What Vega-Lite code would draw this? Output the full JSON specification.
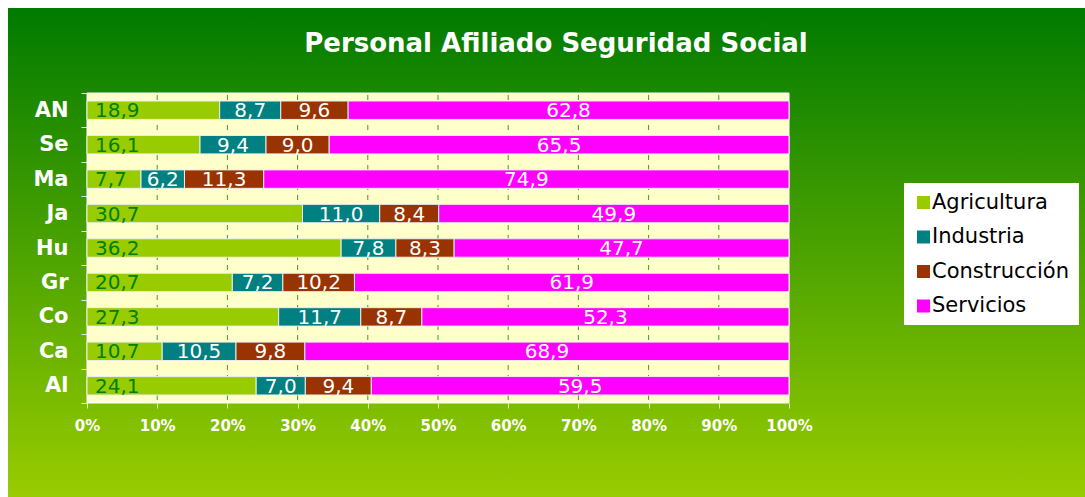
{
  "$schema": "https://vega.github.io/schema/vega-lite/v6.json",
  "width": 1077,
  "height": 497,
  "autosize": {"type": "none"},
  "padding": {"left": 8, "top": 0, "right": 0, "bottom": 0},
  "background": "white",
  "title": {
    "text": "Personal Afiliado Seguridad Social",
    "font": "DejaVu Sans",
    "fontSize": 26,
    "fontWeight": "bold",
    "color": "white",
    "anchor": "middle",
    "frame": "group",
    "dx": 9.5,
    "dy": 72
  },
  "datasets": {
    "main": [
      {"region": "AN", "sector": "Agricultura", "value": 18.9},
      {"region": "AN", "sector": "Industria", "value": 8.7},
      {"region": "AN", "sector": "Construcción", "value": 9.6},
      {"region": "AN", "sector": "Servicios", "value": 62.8},
      {"region": "Se", "sector": "Agricultura", "value": 16.1},
      {"region": "Se", "sector": "Industria", "value": 9.4},
      {"region": "Se", "sector": "Construcción", "value": 9.0},
      {"region": "Se", "sector": "Servicios", "value": 65.5},
      {"region": "Ma", "sector": "Agricultura", "value": 7.7},
      {"region": "Ma", "sector": "Industria", "value": 6.2},
      {"region": "Ma", "sector": "Construcción", "value": 11.3},
      {"region": "Ma", "sector": "Servicios", "value": 74.9},
      {"region": "Ja", "sector": "Agricultura", "value": 30.7},
      {"region": "Ja", "sector": "Industria", "value": 11.0},
      {"region": "Ja", "sector": "Construcción", "value": 8.4},
      {"region": "Ja", "sector": "Servicios", "value": 49.9},
      {"region": "Hu", "sector": "Agricultura", "value": 36.2},
      {"region": "Hu", "sector": "Industria", "value": 7.8},
      {"region": "Hu", "sector": "Construcción", "value": 8.3},
      {"region": "Hu", "sector": "Servicios", "value": 47.7},
      {"region": "Gr", "sector": "Agricultura", "value": 20.7},
      {"region": "Gr", "sector": "Industria", "value": 7.2},
      {"region": "Gr", "sector": "Construcción", "value": 10.2},
      {"region": "Gr", "sector": "Servicios", "value": 61.9},
      {"region": "Co", "sector": "Agricultura", "value": 27.3},
      {"region": "Co", "sector": "Industria", "value": 11.7},
      {"region": "Co", "sector": "Construcción", "value": 8.7},
      {"region": "Co", "sector": "Servicios", "value": 52.3},
      {"region": "Ca", "sector": "Agricultura", "value": 10.7},
      {"region": "Ca", "sector": "Industria", "value": 10.5},
      {"region": "Ca", "sector": "Construcción", "value": 9.8},
      {"region": "Ca", "sector": "Servicios", "value": 68.9},
      {"region": "Al", "sector": "Agricultura", "value": 24.1},
      {"region": "Al", "sector": "Industria", "value": 7.0},
      {"region": "Al", "sector": "Construcción", "value": 9.4},
      {"region": "Al", "sector": "Servicios", "value": 59.5}
    ],
    "grid": [
      {"p": 0.1}, {"p": 0.2}, {"p": 0.3}, {"p": 0.4}, {"p": 0.5},
      {"p": 0.6}, {"p": 0.7}, {"p": 0.8}, {"p": 0.9}
    ],
    "frame": [{"k": 1}]
  },
  "config": {
    "font": "DejaVu Sans",
    "view": {
      "stroke": null,
      "fill": {
        "gradient": "linear",
        "x1": 0, "y1": 0, "x2": 0, "y2": 1,
        "stops": [
          {"offset": 0, "color": "#ffffff"},
          {"offset": 0.0160, "color": "#ffffff"},
          {"offset": 0.0161, "color": "#007a00"},
          {"offset": 1, "color": "#99cc00"}
        ]
      }
    },
    "locale": {
      "number": {"decimal": ",", "thousands": ".", "grouping": [3], "currency": ["", " €"]}
    },
    "legend": {
      "orient": "none",
      "legendX": 896,
      "legendY": 183,
      "fillColor": "white",
      "padding": 9,
      "symbolType": "square",
      "symbolSize": 169,
      "symbolStrokeWidth": 0,
      "labelFont": "DejaVu Sans",
      "labelFontSize": 21,
      "labelColor": "black",
      "labelOffset": -2,
      "rowPadding": 12.5
    }
  },
  "layer": [
    {
      "data": {"name": "frame"},
      "mark": {"type": "rect", "fill": "#ffffcc", "stroke": "white", "strokeWidth": 1, "yOffset": -17.22, "y2Offset": 17.22},
      "encoding": {
        "x": {
          "datum": 0, "type": "quantitative", "title": null,
          "scale": {"type": "linear", "domain": [0, 1], "range": [79, 781], "nice": false, "zero": false},
          "axis": {
            "title": null,
            "orient": "bottom",
            "offset": -94,
            "domain": false,
            "grid": false,
            "values": [0, 0.1, 0.2, 0.3, 0.4, 0.5, 0.6, 0.7, 0.8, 0.9, 1],
            "format": ".0%",
            "labelFlush": false,
            "labelOverlap": false,
            "tickSize": 5,
            "tickColor": "#e4e4e4",
            "labelFont": "DejaVu Sans",
            "labelFontSize": 15,
            "labelFontWeight": "bold",
            "labelColor": "white",
            "labelPadding": 10
          }
        },
        "x2": {"datum": 1},
        "y": {
          "datum": "AN", "type": "nominal", "title": null,
          "scale": {"type": "band", "domain": ["AN", "Se", "Ma", "Ja", "Hu", "Gr", "Co", "Ca", "Al"], "range": [93, 403], "paddingInner": 0, "paddingOuter": 0},
          "axis": {
            "title": null,
            "orient": "left",
            "offset": -79,
            "domain": false,
            "grid": false,
            "tickBand": "extent",
            "tickSize": 6,
            "tickColor": "#e4e4e4",
            "labelFont": "DejaVu Sans",
            "labelFontSize": 21,
            "labelFontWeight": "bold",
            "labelColor": "white",
            "labelPadding": 13
          }
        },
        "y2": {"datum": "Al"}
      }
    },
    {
      "data": {"name": "grid"},
      "mark": {"type": "rule", "stroke": "#3d9a28", "strokeWidth": 1, "strokeDash": [5, 5], "strokeDashOffset": 8, "yOffset": -17.22, "y2Offset": 17.22},
      "encoding": {
        "x": {"field": "p", "type": "quantitative", "title": null},
        "y": {"datum": "AN", "type": "nominal", "title": null},
        "y2": {"datum": "Al"}
      }
    },
    {
      "data": {"name": "main"},
      "transform": [
        {"stack": "value", "groupby": ["region"], "offset": "normalize", "as": ["v0", "v1"]}
      ],
      "mark": {"type": "bar", "height": {"band": 0.535}, "stroke": "#eeeeee", "strokeWidth": 1},
      "encoding": {
        "y": {"field": "region", "type": "nominal", "sort": null, "title": null},
        "x": {"field": "v0", "type": "quantitative", "title": null},
        "x2": {"field": "v1"},
        "color": {
          "field": "sector", "type": "nominal",
          "scale": {"domain": ["Agricultura", "Industria", "Construcción", "Servicios"], "range": ["#99cc00", "#008080", "#993300", "#ff00ff"]},
          "legend": {"title": null}
        }
      }
    },
    {
      "data": {"name": "main"},
      "transform": [
        {"stack": "value", "groupby": ["region"], "offset": "normalize", "as": ["v0", "v1"]},
        {"filter": "datum.sector === 'Agricultura'"}
      ],
      "mark": {"type": "text", "align": "left", "baseline": "middle", "dx": 8, "dy": 1, "fontSize": 20, "font": "DejaVu Sans", "color": "#008000"},
      "encoding": {
        "x": {"field": "v0", "type": "quantitative", "title": null},
        "y": {"field": "region", "type": "nominal", "sort": null, "title": null},
        "text": {"field": "value", "type": "quantitative", "format": ".1f"}
      }
    },
    {
      "data": {"name": "main"},
      "transform": [
        {"stack": "value", "groupby": ["region"], "offset": "normalize", "as": ["v0", "v1"]},
        {"calculate": "(datum.v0 + datum.v1) / 2", "as": "mid"},
        {"filter": "datum.sector !== 'Agricultura'"}
      ],
      "mark": {"type": "text", "align": "center", "baseline": "middle", "dy": 1, "fontSize": 20, "font": "DejaVu Sans", "color": "white"},
      "encoding": {
        "x": {"field": "mid", "type": "quantitative", "title": null},
        "y": {"field": "region", "type": "nominal", "sort": null, "title": null},
        "text": {"field": "value", "type": "quantitative", "format": ".1f"}
      }
    }
  ]
}
